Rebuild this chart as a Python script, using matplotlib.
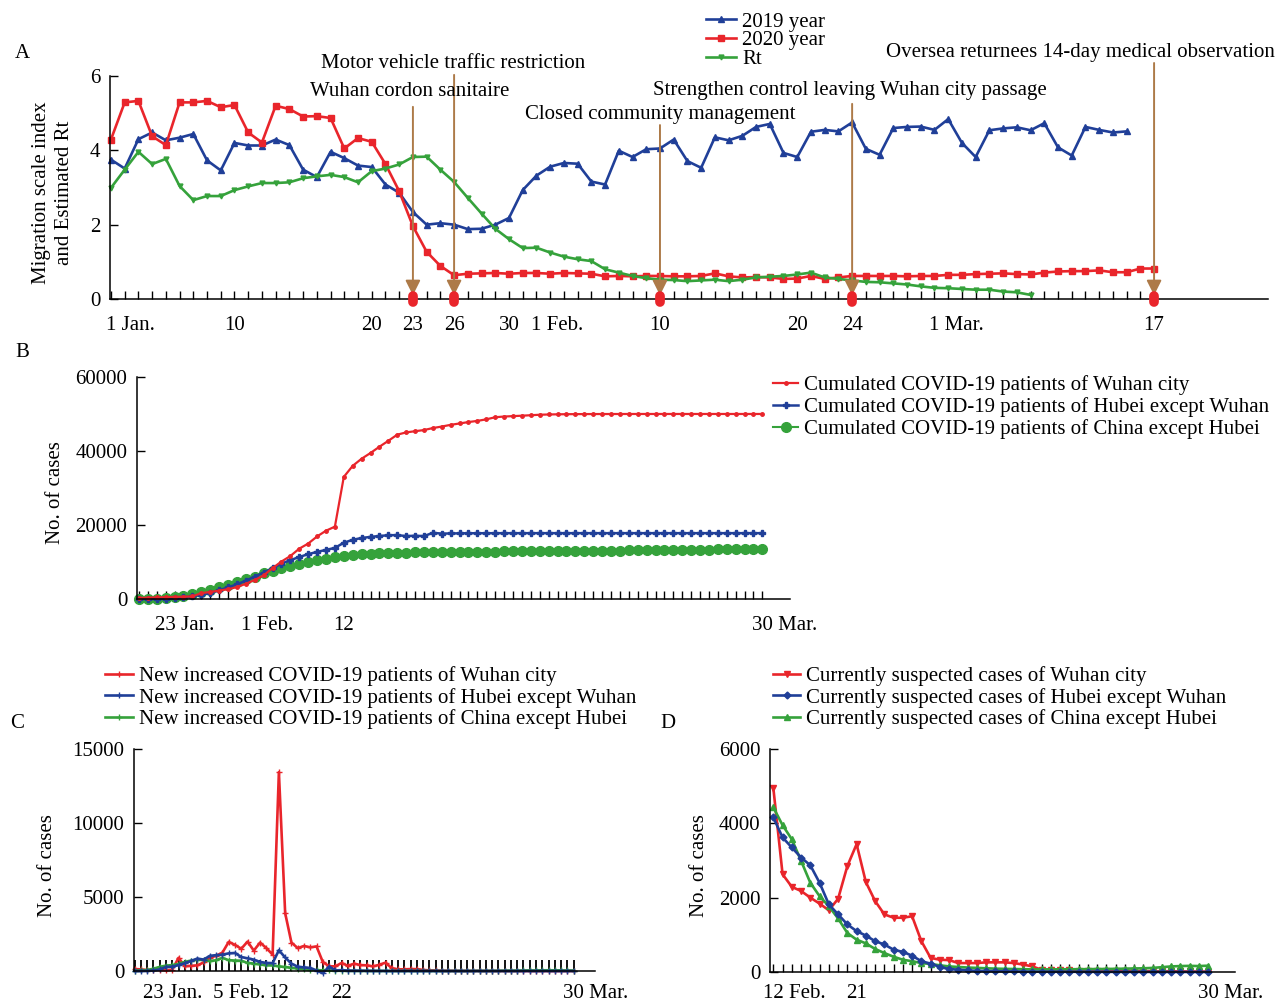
import matplotlib.pyplot as plt
from matplotlib.transforms import ScaledTranslation

plt.rcParams['font.family'] = ['Liberation Serif', 'DejaVu Serif']
plt.rcParams['font.size'] = 15

# ---------------- data ----------------
# Panel A: daily index from 1 Jan 2020 (index 0) onwards
migration_2019 = [3.75, 3.51, 4.30, 4.48, 4.27, 4.34, 4.44, 3.73, 3.46, 4.20,
                  4.13, 4.13, 4.29, 4.14, 3.48, 3.28, 3.96, 3.79, 3.59, 3.55,
                  3.08, 2.86, 2.34, 2.00, 2.04, 2.00, 1.88, 1.89, 2.00, 2.18,
                  2.93, 3.32, 3.56, 3.66, 3.64, 3.16, 3.08, 3.99, 3.82, 4.03,
                  4.05, 4.29, 3.71, 3.53, 4.35, 4.27, 4.39, 4.63, 4.71, 3.93,
                  3.82, 4.50, 4.55, 4.51, 4.75, 4.04, 3.88, 4.60, 4.63, 4.64,
                  4.55, 4.84, 4.20, 3.82, 4.54, 4.59, 4.62, 4.54, 4.73, 4.08,
                  3.86, 4.63, 4.55, 4.48, 4.51]
migration_2020 = [4.29, 5.29, 5.33, 4.38, 4.14, 5.29, 5.29, 5.33, 5.16, 5.22,
                  4.48, 4.21, 5.20, 5.11, 4.91, 4.92, 4.87, 4.05, 4.33, 4.23,
                  3.63, 2.90, 1.96, 1.27, 0.89, 0.64, 0.68, 0.69, 0.70, 0.68,
                  0.70, 0.70, 0.68, 0.70, 0.69, 0.68, 0.61, 0.62, 0.61, 0.62,
                  0.62, 0.61, 0.61, 0.62, 0.69, 0.61, 0.58, 0.59, 0.58, 0.54,
                  0.55, 0.62, 0.54, 0.58, 0.62, 0.62, 0.62, 0.62, 0.61, 0.62,
                  0.62, 0.65, 0.65, 0.67, 0.68, 0.69, 0.67, 0.66, 0.71, 0.74,
                  0.75, 0.75, 0.77, 0.72, 0.72, 0.82, 0.82]
rt = [2.99, 3.48, 3.96, 3.63, 3.77, 3.04, 2.66, 2.77, 2.77, 2.93,
      3.03, 3.12, 3.12, 3.14, 3.25, 3.30, 3.34, 3.28, 3.14, 3.44,
      3.51, 3.62, 3.82, 3.83, 3.48, 3.15, 2.72, 2.30, 1.89, 1.61,
      1.37, 1.38, 1.25, 1.14, 1.07, 1.02, 0.80, 0.71, 0.62, 0.56,
      0.52, 0.51, 0.48, 0.50, 0.52, 0.48, 0.52, 0.58, 0.60, 0.62,
      0.66, 0.71, 0.58, 0.54, 0.50, 0.46, 0.45, 0.42, 0.39, 0.34,
      0.30, 0.29, 0.27, 0.25, 0.25, 0.20, 0.18, 0.11]
a_ticklabels = {0: "1 Jan.", 9: "10", 19: "20", 22: "23", 25: "26", 29: "30",
                31: "1 Feb.", 40: "10", 50: "20", 54: "24", 60: "1 Mar.", 76: "17"}
a_red_ticks = [0, 31, 60]
a_orange_ticks = [9, 19, 24, 29, 50]
event_days = [22, 25, 40, 54, 76]
event_labels = ["Wuhan cordon sanitaire", "Motor vehicle traffic restriction",
                "Closed community management",
                "Strengthen control leaving Wuhan city passage",
                "Oversea returnees 14-day medical observation"]

# Panel B: cumulative cases, 20 Jan .. 30 Mar
cum_wuhan = [258, 363, 425, 495, 572, 618, 698, 1590, 1905, 2261, 2639, 3215,
             4109, 5142, 6384, 8351, 10117, 11618, 13603, 14982, 16902, 18454,
             19558, 32994, 35991, 37914, 39462, 41152, 42752, 44412, 45027,
             45346, 45660, 46201, 46607, 47071, 47441, 47824, 48137, 48557, 49122,
             49315, 49426, 49540, 49671, 49797, 49871, 49912, 49948, 49965, 49978,
             49986, 49991, 49995, 49999, 50003, 50004, 50005, 50005, 50005, 50005,
             50005, 50005, 50006, 50006, 50006, 50006, 50006, 50006, 50006, 50006]
cum_hubei_ex = [12, 12, 19, 54, 157, 434, 725, 1124, 1649, 2325, 3167, 3938,
                4965, 6035, 7138, 8327, 9548, 10494, 11350, 12118, 12729, 13274,
                13808, 15212, 15995, 16492, 16787, 17030, 17237, 17270, 17004,
                17096, 17002, 17883, 17680, 17715, 17746, 17772, 17777, 17780, 17785,
                17788, 17791, 17792, 17795, 17795, 17795, 17795, 17795, 17795, 17795,
                17795, 17795, 17795, 17795, 17795, 17795, 17795, 17795, 17795, 17795,
                17795, 17795, 17795, 17795, 17795, 17795, 17795, 17795, 17795, 17795]
cum_china_ex = [21, 65, 127, 281, 558, 923, 1321, 1801, 2420, 3125, 3886, 4638,
                5306, 6028, 6916, 7646, 8353, 9049, 9593, 10098, 10540, 10910,
                11287, 11600, 11870, 12090, 12250, 12370, 12450, 12500, 12550,
                12600, 12640, 12680, 12700, 12720, 12740, 12760, 12780, 12800, 12820,
                12840, 12860, 12880, 12900, 12920, 12940, 12960, 12980, 13000, 13020,
                13040, 13060, 13080, 13100, 13120, 13140, 13160, 13190, 13220, 13250,
                13280, 13310, 13340, 13370, 13400, 13430, 13460, 13490, 13520, 13550]
b_ticklabels = {3: "23 Jan.", 12: "1 Feb.", 23: "12", 70: "30 Mar."}
b_red_ticks = [3, 12, 23]

# Panel C: new cases, 20 Jan .. 30 Mar
new_wuhan = [136, 105, 62, 70, 77, 46, 80, 892, 315, 356, 378, 576,
             894, 1033, 1242, 1967, 1766, 1501, 1985, 1379, 1920, 1552, 1104,
             13436, 3910, 1923, 1548, 1690, 1600, 1660, 615, 319, 314, 541, 348,
             499, 401, 383, 313, 420, 565,
             193, 114, 114, 131, 126, 74, 41, 36, 17, 13, 8, 5, 4, 4, 4, 1, 1,
             0, 0, 0, 0, 0, 0, 0, 0, 0, 0, 0, 0, 0]
new_hubei_ex = [0, 0, 7, 35, 103, 277, 291, 399, 525, 676, 842, 771,
                1027, 1070, 1103, 1189, 1221, 946, 856, 768, 611, 545, 534,
                1404, 913, 497, 295, 243, 207, 33, -150, 300, 40, 60, 30,
                25, 20, 15, 10, 8, 5,
                3, 3, 2, 2, 1, 1, 1, 0, 0, 0, 0, 0, 0, 0, 0, 0, 0,
                0, 0, 0, 0, 0, 0, 0, 0, 0, 0, 0, 0, 0]
new_china_ex = [21, 44, 62, 154, 277, 365, 398, 480, 619, 705, 762, 755,
                669, 726, 890, 731, 707, 696, 544, 505, 442, 381, 377,
                312, 267, 221, 166, 115, 79, 56, 45, 40, 30, 25, 20,
                15, 12, 10, 8, 8, 6,
                5, 5, 4, 4, 3, 3, 3, 2, 2, 2, 2, 3, 5, 6, 8, 10, 12,
                15, 20, 25, 30, 35, 40, 40, 45, 50, 45, 40, 35, 30]
c_ticklabels = {3: "23 Jan.", 16: "5 Feb.", 23: "12", 33: "22", 70: "30 Mar."}
c_red_ticks = [3, 16, 23, 33]

# Panel D: currently suspected cases, 12 Feb .. 30 Mar
susp_wuhan = [4950, 2630, 2290, 2180, 2000, 1840, 1660, 1970, 2850, 3440,
              2420, 1910, 1550, 1460, 1460, 1500, 830, 380, 330, 320,
              240, 240, 240, 260, 260, 260, 240, 200, 150, 60,
              55, 50, 45, 40, 40, 35, 35, 30, 30, 25,
              25, 20, 20, 20, 15, 15, 10, 10]
susp_hubei_ex = [4160, 3620, 3350, 3080, 2870, 2400, 1820, 1550, 1280, 1100,
                 980, 830, 740, 600, 540, 440, 290, 225, 135, 80,
                 63, 45, 30, 25, 20, 18, 15, 12, 10, 10,
                 8, 8, 6, 6, 5, 5, 4, 4, 3, 3,
                 3, 2, 2, 2, 2, 1, 1, 1]
susp_china_ex = [4430, 3950, 3570, 2990, 2400, 2040, 1770, 1440, 1050, 870,
                 770, 620, 510, 410, 330, 290, 240, 215, 180, 150,
                 135, 120, 110, 100, 90, 85, 80, 75, 70, 70,
                 70, 72, 75, 75, 78, 80, 82, 85, 90, 95,
                 100, 110, 130, 150, 160, 165, 160, 170]
d_ticklabels = {0: "12 Feb.", 9: "21", 47: "30 Mar."}
d_red_ticks = [0, 9]

# ---------------- style ----------------
W, H = 1279, 1001
BLUE = '#203f98'
RED = '#e9252b'
GREEN = '#35a23b'
ORANGE = '#f5a020'
BROWN = '#ad7a48'

fig = plt.figure(figsize=(W / 100, H / 100), dpi=100)


def axes_px(left, top, right, bottom):
    return fig.add_axes([left / W, 1 - bottom / H, (right - left) / W, (bottom - top) / H])


def style(ax, xpad=10):
    for s in ['top', 'right']:
        ax.spines[s].set_visible(False)
    for s in ['left', 'bottom']:
        ax.spines[s].set_linewidth(1.1)
    ax.tick_params(axis='both', direction='in', length=6, width=1.0, labelsize=15)
    ax.tick_params(axis='x', pad=xpad)
    ax.tick_params(axis='y', pad=7)


def day_ticks(ax, n, labels, red=(), orange=(), overrides=None):
    overrides = overrides or {}
    ax.set_xticks(range(n))
    ax.set_xticklabels([labels.get(i, '') for i in range(n)])
    ticks = ax.xaxis.get_major_ticks()
    for i, (tick, lab) in enumerate(zip(ticks, ax.get_xticklabels())):
        if i in red:
            tick.tick1line.set_color(RED)
        elif i in orange:
            tick.tick1line.set_color(ORANGE)
        text = labels.get(i, '')
        if i in overrides:
            ha, dx = overrides[i]
        elif ' ' in text:
            ha, dx = 'left', -len(text.split(' ')[0]) * 3.75
        else:
            continue
        lab.set_ha(ha)
        lab.set_transform(lab.get_transform() + ScaledTranslation(dx / 72, 0, fig.dpi_scale_trans))


def legend_px(handles, x, y, handlelength, spacing):
    fig.legend(handles=handles, loc='upper left', bbox_to_anchor=(x / W, 1 - y / H),
               frameon=False, fontsize=15, handlelength=handlelength,
               handletextpad=0.3, labelspacing=spacing, borderpad=0, borderaxespad=0)


def ftext(x, y, s, **kw):
    fig.text(x / W, 1 - y / H, s, **kw)


# ---------------- Panel A ----------------
axA = axes_px(110, 76, 1268, 299)
style(axA, xpad=12)
lb, = axA.plot(range(len(migration_2019)), migration_2019, color=BLUE, lw=1.9,
               marker='^', ms=4, label='2019 year', clip_on=False)
lr, = axA.plot(range(len(migration_2020)), migration_2020, color=RED, lw=1.9,
               marker='s', ms=4, label='2020 year', clip_on=False)
lg, = axA.plot(range(len(rt)), rt, color=GREEN, lw=1.9,
               marker='v', ms=3.5, label='Rt', clip_on=False)
axA.set_xlim(-0.07, 84.3)
axA.set_ylim(0, 6)
axA.set_yticks([0, 2, 4, 6])
day_ticks(axA, 77, a_ticklabels, a_red_ticks, a_orange_ticks)

arrow_tops = [5.17, 6.03, 4.68, 5.25, 6.35]
for d, top in zip(event_days, arrow_tops):
    axA.annotate('', xy=(d, 0.1), xytext=(d, top), xycoords='data',
                 arrowprops=dict(arrowstyle='-|>,head_length=0.6,head_width=0.3',
                                 color=BROWN, lw=1.4, shrinkA=0, shrinkB=0,
                                 mutation_scale=15), annotation_clip=False)
    axA.plot([d, d], [-0.08, 0.08], color=RED, lw=7, solid_capstyle='round',
             clip_on=False, zorder=5)

event_pos = [(410, 92), (453, 63), (660, 114), (850, 90), (1080, 53)]
for (x, y), s in zip(event_pos, event_labels):
    ftext(x, y, s, ha='center', va='center', fontsize=15)

legend_px([lb, lr, lg], 706, 12, 1.45, -0.04)
ftext(53, 193, "Migration scale index\nand Estimated Rt", rotation=90,
      ha='center', va='center', fontsize=15, linespacing=1.25)
ftext(22, 53, "A", ha='center', va='center', fontsize=15)

# ---------------- Panel B ----------------
axB = axes_px(137, 377, 790, 599)
style(axB, xpad=12)
gB, = axB.plot(range(len(cum_china_ex)), cum_china_ex, color=GREEN, lw=1.5,
               marker='o', ms=7, label='Cumulated COVID-19 patients of China except Hubei',
               clip_on=False)
bB, = axB.plot(range(len(cum_hubei_ex)), cum_hubei_ex, color=BLUE, lw=1.8,
               marker='P', ms=4.5, label='Cumulated COVID-19 patients of Hubei except Wuhan',
               clip_on=False)
rB, = axB.plot(range(len(cum_wuhan)), cum_wuhan, color=RED, lw=1.6,
               marker='o', ms=2.5, label='Cumulated COVID-19 patients of Wuhan city',
               clip_on=False)
axB.set_xlim(-0.22, 73.1)
axB.set_ylim(0, 60000)
axB.set_yticks([0, 20000, 40000, 60000])
day_ticks(axB, 71, b_ticklabels, b_red_ticks)
legend_px([rB, bB, gB], 773, 375, 1.2, 0.11)
ftext(55, 493, "No. of cases", rotation=90, ha='center', va='center', fontsize=15)
ftext(22, 353, "B", ha='center', va='center', fontsize=15)

# ---------------- Panel C ----------------
axC = axes_px(134, 749, 595, 971)
style(axC, xpad=9)
rC, = axC.plot(range(len(new_wuhan)), new_wuhan, color=RED, lw=1.9, marker='+', ms=4,
               label='New increased COVID-19 patients of Wuhan city', clip_on=False)
gC, = axC.plot(range(len(new_china_ex)), new_china_ex, color=GREEN, lw=1.9, marker='+', ms=4,
               label='New increased COVID-19 patients of China except Hubei', clip_on=False)
bC, = axC.plot(range(len(new_hubei_ex)), new_hubei_ex, color=BLUE, lw=1.9, marker='+', ms=4,
               label='New increased COVID-19 patients of Hubei except Wuhan', clip_on=False)
axC.set_xlim(-0.1, 73.4)
axC.set_ylim(0, 15000)
axC.set_yticks([0, 5000, 10000, 15000])
axC.tick_params(axis='x', length=8, width=1.3)
day_ticks(axC, 71, c_ticklabels, c_red_ticks, overrides={16: ('center', 3)})
legend_px([rC, bC, gC], 105, 666, 1.35, 0.09)
ftext(48, 866, "No. of cases", rotation=90, ha='center', va='center', fontsize=15)
ftext(17, 724, "C", ha='center', va='center', fontsize=15)

# ---------------- Panel D ----------------
axD = axes_px(770, 749, 1235, 972)
style(axD, xpad=9)
rD, = axD.plot(range(len(susp_wuhan)), susp_wuhan, color=RED, lw=1.9, marker='v', ms=4,
               label='Currently suspected cases of Wuhan city', clip_on=False)
gD, = axD.plot(range(len(susp_china_ex)), susp_china_ex, color=GREEN, lw=1.9, marker='^', ms=4,
               label='Currently suspected cases of China except Hubei', clip_on=False)
bD, = axD.plot(range(len(susp_hubei_ex)), susp_hubei_ex, color=BLUE, lw=1.9, marker='D', ms=3.5,
               label='Currently suspected cases of Hubei except Wuhan', clip_on=False)
axD.set_xlim(-0.36, 49.9)
axD.set_ylim(0, 6000)
axD.set_yticks([0, 2000, 4000, 6000])
day_ticks(axD, 48, d_ticklabels, d_red_ticks)
legend_px([rD, bD, gD], 773, 666, 1.3, 0.09)
ftext(700, 866, "No. of cases", rotation=90, ha='center', va='center', fontsize=15)
ftext(668, 724, "D", ha='center', va='center', fontsize=15)

fig.savefig('out.png', dpi=100)
